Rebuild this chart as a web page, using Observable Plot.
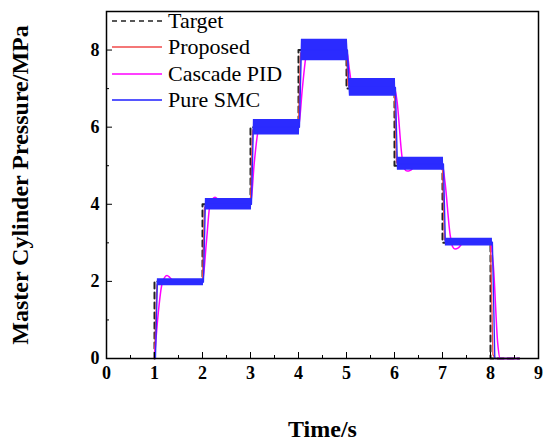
<!DOCTYPE html>
<html>
<head>
<meta charset="utf-8">
<script src="https://cdn.jsdelivr.net/npm/d3@7"></script>
<script src="https://cdn.jsdelivr.net/npm/@observablehq/plot@0.6"></script>
<style>
  html, body { margin: 0; padding: 0; background: #fff; }
  #wrap { position: relative; width: 550px; height: 443px; }
  #legend { position: absolute; left: 112px; top: 8px; font-family: "Liberation Serif", "Times New Roman", serif; font-size: 22px; color: #000; }
  .row { display: flex; align-items: center; height: 26.3px; }
  .row svg { margin-right: 6px; }
</style>
</head>
<body>
<div id="wrap"><div id="legend"></div></div>
<script>
// ---- data ----
const seriesNames = ["Target", "Proposed", "Cascade PID", "Pure SMC"];
const seriesColors = ["#222222", "#f04a4a", "#ff00ff", "#1e1eff"];

const targetTimes  = [1, 1, 2, 2, 3, 3, 4, 4, 5, 5, 6, 6, 7, 7, 8, 8, 8.6];
const targetValues = [0, 2, 2, 4, 4, 6, 6, 8, 8, 7, 7, 5, 5, 3, 3, 0, 0];

const proposedTimes  = [1.0, 1.05, 1.08, 2.0, 2.04, 2.08, 3.0, 3.04, 3.08, 4.0, 4.04, 4.08, 5.0, 5.03, 5.07, 6.0, 6.04, 6.08, 7.0, 7.04, 7.08, 8.0, 8.05, 8.1, 8.6];
const proposedValues = [0, 1.9, 2.0, 2.0, 3.9, 4.0, 4.0, 5.9, 6.0, 6.0, 7.9, 8.0, 8.0, 7.1, 7.0, 7.0, 5.1, 5.0, 5.0, 3.1, 3.0, 3.0, 0.1, 0, 0];

const pidTimes = [1.0, 1.08, 1.15, 1.2, 1.26, 1.32, 1.4, 1.5, 1.7, 2.0,
  2.08, 2.15, 2.2, 2.26, 2.33, 2.42, 2.55, 3.0,
  3.08, 3.15, 3.21, 3.28, 3.35, 3.45, 4.0,
  4.08, 4.15, 4.22, 4.3, 4.4, 4.5, 5.0,
  5.06, 5.12, 5.18, 5.25, 5.35, 6.0,
  6.05, 6.16, 6.21, 6.26, 6.33, 6.42, 6.55, 7.0,
  7.05, 7.16, 7.21, 7.26, 7.33, 7.42, 7.55, 8.0,
  8.06, 8.15, 8.2, 8.6];
const pidValues = [0, 1.2, 1.9, 2.08, 2.15, 2.1, 2.0, 1.97, 2.0, 2.0,
  3.0, 3.95, 4.12, 4.18, 4.12, 4.0, 3.97, 4.0,
  5.1, 5.85, 6.1, 6.18, 6.12, 6.0, 6.0,
  7.0, 7.8, 8.1, 8.2, 8.15, 8.05, 8.0,
  7.5, 7.0, 6.88, 6.9, 7.0, 7.0,
  6.7, 5.2, 4.92, 4.86, 4.88, 4.98, 5.02, 5.0,
  4.6, 3.2, 2.9, 2.84, 2.87, 2.98, 3.01, 3.0,
  2.4, 0.4, 0.0, 0];

// Pure SMC: chattering band (lower / upper envelope)
const smcTimes = [1.02, 1.06, 2.02, 2.06, 3.02, 3.06, 4.02, 4.06, 5.02, 5.06, 6.02, 6.06, 7.02, 7.06, 8.04, 8.09, 8.6];
const smcLow   = [0, 1.89, 1.89, 3.85, 3.85, 5.8, 5.8, 7.72, 7.72, 6.8, 6.8, 4.88, 4.88, 2.92, 2.92, 0, 0];
const smcHigh  = [0, 2.07, 2.07, 4.15, 4.15, 6.2, 6.2, 8.28, 8.28, 7.26, 7.26, 5.22, 5.22, 3.12, 3.12, 0, 0];

const xMajor = [0, 1, 2, 3, 4, 5, 6, 7, 8, 9];
const xMinor = [0.5, 1.5, 2.5, 3.5, 4.5, 5.5, 6.5, 7.5, 8.5];
const yMajor = [0, 2, 4, 6, 8];
const yMinor = [1, 3, 5, 7];

// ---- tables ----
const target = targetTimes.map((t, i) => ({t, v: targetValues[i]}));
const proposed = proposedTimes.map((t, i) => ({t, v: proposedValues[i]}));
const pid = pidTimes.map((t, i) => ({t, v: pidValues[i]}));
const smc = smcTimes.map((t, i) => ({t, lo: smcLow[i], hi: smcHigh[i], mid: (smcLow[i] + smcHigh[i]) / 2}));

const serif = "'Liberation Serif', 'Times New Roman', serif";

const chart = Plot.plot({
  width: 550,
  height: 443,
  marginLeft: 106,
  marginRight: 12,
  marginTop: 11,
  marginBottom: 85,
  style: {fontFamily: serif, fontSize: "18px", fontWeight: "bold", color: "#000", background: "#fff"},
  x: {domain: [0, 9]},
  y: {domain: [0, 9]},
  marks: [
    Plot.line(target, {x: "t", y: "v", stroke: seriesColors[0], strokeWidth: 2, strokeDasharray: "6,4"}),
    Plot.line(proposed, {x: "t", y: "v", stroke: seriesColors[1], strokeWidth: 1.3}),
    Plot.line(pid, {x: "t", y: "v", stroke: seriesColors[2], strokeWidth: 1.5, curve: "monotone-x"}),
    Plot.areaY(smc, {x: "t", y1: "lo", y2: "hi", fill: "#2b2bff"}),
    Plot.line(smc, {x: "t", y: "mid", stroke: "#2b2bff", strokeWidth: 1.3}),
    Plot.frame({stroke: "#000", strokeWidth: 1.5}),
    Plot.axisX({ticks: xMajor, tickSize: -6, tickPadding: 14, tickFormat: d3.format("d"),
      label: "Time/s", labelAnchor: "center", labelArrow: "none", labelOffset: 78}),
    Plot.axisX({ticks: xMinor, tickSize: -3, tickFormat: () => "", label: null}),
    Plot.axisY({ticks: yMajor, tickSize: -6, tickPadding: 13, tickFormat: d3.format("d"),
      label: "Master Cylinder Pressure/MPa", labelAnchor: "center", labelArrow: "none", labelOffset: 96}),
    Plot.axisY({ticks: yMinor, tickSize: -3, tickFormat: () => "", label: null})
  ]
});

d3.select(chart).selectAll("[aria-label='x-axis label'] text, [aria-label='y-axis label'] text")
  .style("font-size", "24px").style("font-weight", "bold");

document.getElementById("wrap").prepend(chart);

// ---- legend ----
const legend = document.getElementById("legend");
seriesNames.forEach((name, i) => {
  const row = document.createElement("div");
  row.className = "row";
  const dash = i === 0 ? 'stroke-dasharray="5,4"' : "";
  row.innerHTML = `<svg width="50" height="6"><line x1="0" y1="3" x2="50" y2="3" stroke="${seriesColors[i]}" stroke-width="1.5" ${dash}/></svg><span>${name}</span>`;
  legend.appendChild(row);
});
</script>
</body>
</html>
